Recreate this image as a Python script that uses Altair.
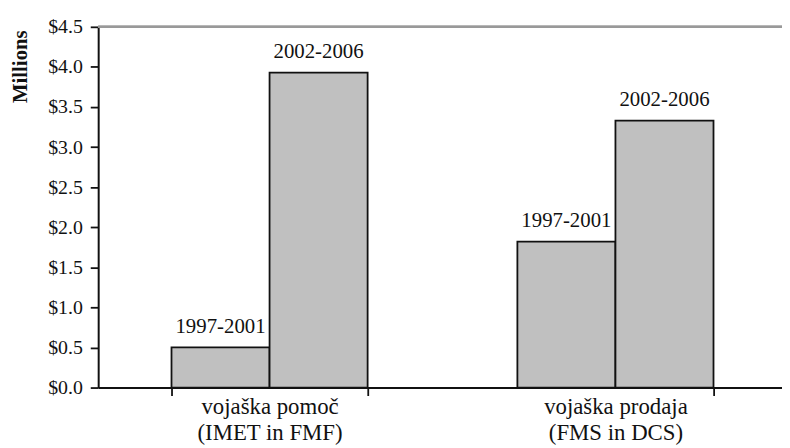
import altair as alt
import pandas as pd

categories = ["vojaška pomoč|(IMET in FMF)", "vojaška prodaja|(FMS in DCS)"]
periods = ["1997-2001", "2002-2006"]
values_1997_2001 = [0.50, 1.82]
values_2002_2006 = [3.93, 3.33]

rows = []
for i, c in enumerate(categories):
    rows.append({"category": c, "period": periods[0], "value": values_1997_2001[i]})
    rows.append({"category": c, "period": periods[1], "value": values_2002_2006[i]})
df = pd.DataFrame(rows)

FONT = "Liberation Serif"

x_enc = alt.X(
    "category:N",
    sort=categories,
    scale=alt.Scale(paddingInner=0.433, paddingOuter=0.205, align=0.517),
    axis=alt.Axis(
        title=None,
        labelAngle=0,
        labelExpr="split(datum.label, '|')",
        labelFont=FONT,
        labelFontSize=23,
        labelLineHeight=26,
        labelColor="#111",
        labelPadding=0,
        tickBand="extent",
        tickSize=8,
        tickColor="#111",
        tickWidth=1.8,
        domainColor="#111",
        domainWidth=2,
    ),
)
xoff = alt.XOffset("period:N", sort=periods, scale=alt.Scale(paddingInner=0, paddingOuter=0))
y_enc = alt.Y(
    "value:Q",
    scale=alt.Scale(domain=[0, 4.5], nice=False),
    axis=alt.Axis(
        values=[0, 0.5, 1, 1.5, 2, 2.5, 3, 3.5, 4, 4.5],
        format="$.1f",
        title="Millions",
        titleFont=FONT,
        titleFontSize=21,
        titleFontWeight="bold",
        titleColor="#111",
        titleAngle=-90,
        titleAnchor="end",
        titleAlign="right",
        titleBaseline="middle",
        titleX=-78,
        titleY=3,
        labelFont=FONT,
        labelFontSize=20,
        labelColor="#111",
        labelPadding=8,
        tickSize=8,
        tickColor="#111",
        tickWidth=1.8,
        domainColor="#111",
        domainWidth=2,
        grid=False,
    ),
)

bars = alt.Chart(df).mark_bar(
    color="#c0c0c0", stroke="#111", strokeWidth=1.8
).encode(x=x_enc, xOffset=xoff, y=y_enc)

labels = alt.Chart(df).mark_text(
    font=FONT, fontSize=21, color="#111", baseline="alphabetic", dy=-15
).encode(
    x=alt.X("category:N", sort=categories),
    xOffset=alt.XOffset("period:N", sort=periods),
    y="value:Q",
    text="period:N",
)

top_line = alt.Chart(df).mark_rule(color="#999", strokeWidth=2).encode(y=alt.datum(4.5))

chart = (
    alt.layer(top_line, bars, labels)
    .properties(
        width=690,
        height=364,
        autosize=alt.AutoSizeParams(type="none"),
        padding={"left": 91, "top": 17, "right": 0, "bottom": 60},
    )
    .configure_view(stroke=None)
)

chart.save("out.html", embed_options={"renderer": "svg", "actions": False})
